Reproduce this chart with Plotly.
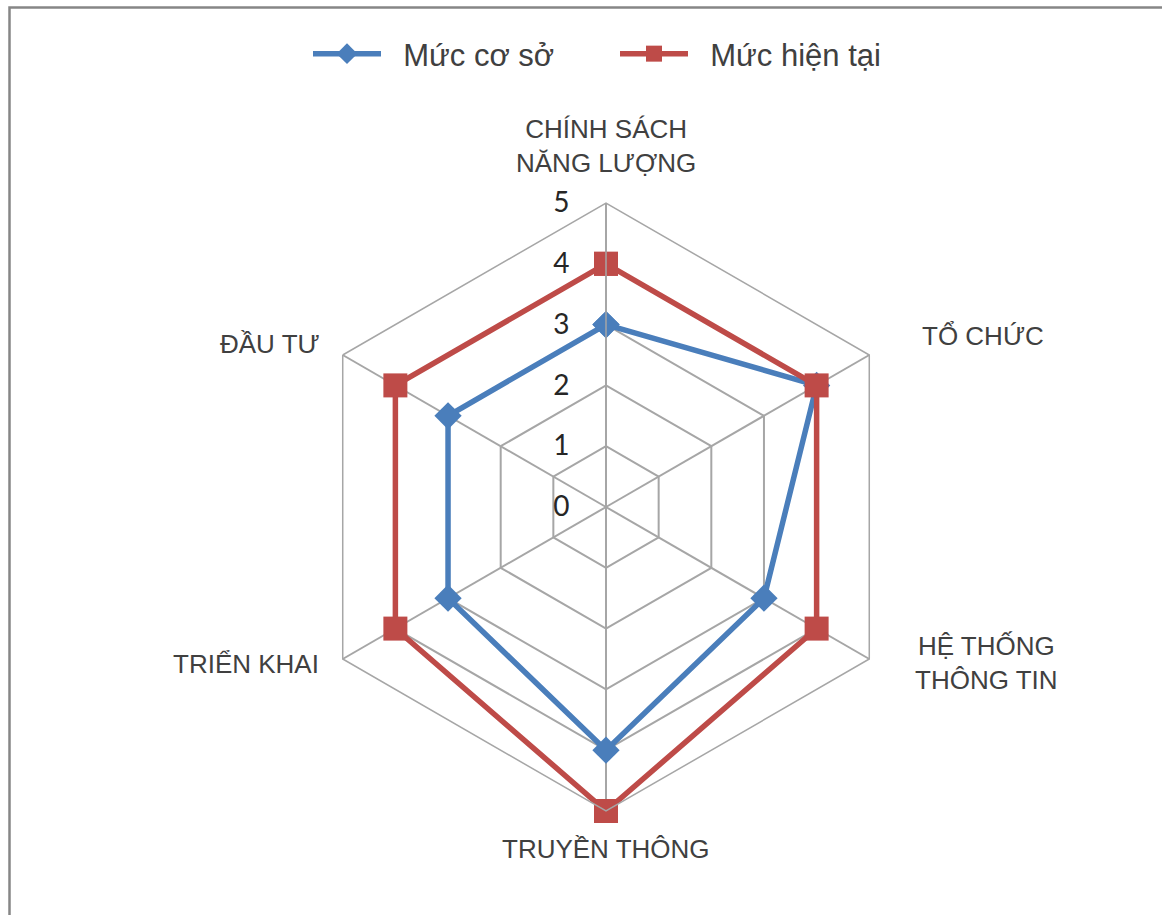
import plotly.graph_objects as go

# Assessment axes, clockwise from the top
categories = [
    "CHÍNH SÁCH NĂNG LƯỢNG",
    "TỔ CHỨC",
    "HỆ THỐNG THÔNG TIN",
    "TRUYỀN THÔNG",
    "TRIỂN KHAI",
    "ĐẦU TƯ",
]
category_labels = [
    "CHÍNH SÁCH<br>NĂNG LƯỢNG",
    "TỔ CHỨC",
    "HỆ THỐNG<br>THÔNG TIN",
    "TRUYỀN THÔNG",
    "TRIỂN KHAI",
    "ĐẦU TƯ",
]
series_names = ["Mức cơ sở", "Mức hiện tại"]
baseline_level = [3, 4, 3, 4, 3, 3]
current_level = [4, 4, 4, 5, 4, 4]
radial_ticks = [0, 1, 2, 3, 4, 5]

W, H = 1162, 915
BLUE = "#4A7EBB"
RED = "#BE4B48"
GRID = "#A6A6A6"
TEXT = "#404040"
SANS = "Liberation Sans, Arial, sans-serif"
PAD = "\u00a0\u00a0"  # extra room between legend glyph and its text


def px_x(x):
    return x / W


def px_y(y):
    return 1 - y / H


def closed(values):
    return list(values) + [values[0]]


fig = go.Figure()

fig.add_trace(go.Scatterpolar(
    r=closed(baseline_level),
    theta=closed(categories),
    name=PAD + series_names[0],
    mode="lines+markers",
    line=dict(color=BLUE, width=5.5),
    marker=dict(symbol="diamond", size=21, color=BLUE),
    cliponaxis=False,
))
fig.add_trace(go.Scatterpolar(
    r=closed(current_level),
    theta=closed(categories),
    name=PAD + series_names[1],
    mode="lines+markers",
    line=dict(color=RED, width=5.5),
    marker=dict(symbol="square", size=24, color=RED),
    cliponaxis=False,
))

# Category captions placed around the hexagon
label_pos = [
    (606, 146, "center"),
    (983, 336, "center"),
    (986, 663, "center"),
    (606, 849, "center"),
    (321, 664, "right"),
    (322, 344, "right"),
]
annotations = []
for text, (x, y, anchor) in zip(category_labels, label_pos):
    annotations.append(dict(
        x=px_x(x), y=px_y(y), xref="paper", yref="paper",
        xanchor=anchor, yanchor="middle", align="center",
        text=text, showarrow=False,
        font=dict(family=SANS, size=26, color=TEXT),
    ))

fig.update_layout(
    width=W, height=H, autosize=False,
    margin=dict(l=0, r=0, t=0, b=0),
    paper_bgcolor="white",
    plot_bgcolor="white",
    polar=dict(
        domain=dict(x=[px_x(302), px_x(910)], y=[px_y(811), px_y(203)]),
        bgcolor="white",
        gridshape="linear",
        angularaxis=dict(
            direction="clockwise",
            rotation=90,
            showticklabels=False,
            ticks="",
            showline=True,
            linecolor=GRID,
            linewidth=1.5,
            showgrid=True,
            gridcolor=GRID,
            gridwidth=1.5,
        ),
        radialaxis=dict(
            range=[0, 5],
            tickvals=radial_ticks,
            angle=90,
            side="counterclockwise",
            tickangle=90,
            showline=True,
            linecolor=GRID,
            linewidth=1.5,
            showgrid=True,
            gridcolor=GRID,
            gridwidth=1.5,
            ticks="outside",
            ticklen=26,
            tickcolor="rgba(0,0,0,0)",
            tickfont=dict(family="Lato, Carlito, sans-serif", size=28, color="#262626"),
        ),
    ),
    showlegend=True,
    legend=dict(
        orientation="h",
        x=px_x(308), xanchor="left",
        y=px_y(54), yanchor="middle",
        font=dict(family=SANS, size=31, color=TEXT),
        itemwidth=68,
        entrywidth=224,
        entrywidthmode="pixels",
        bgcolor="rgba(0,0,0,0)",
    ),
    annotations=annotations,
    shapes=[dict(
        type="rect", xref="paper", yref="paper",
        x0=px_x(9.5), x1=1.2, y0=-0.2, y1=px_y(7.5),
        line=dict(color="#868686", width=2.5),
        fillcolor="rgba(0,0,0,0)",
        layer="above",
    )],
)

fig.write_html("out.html")
